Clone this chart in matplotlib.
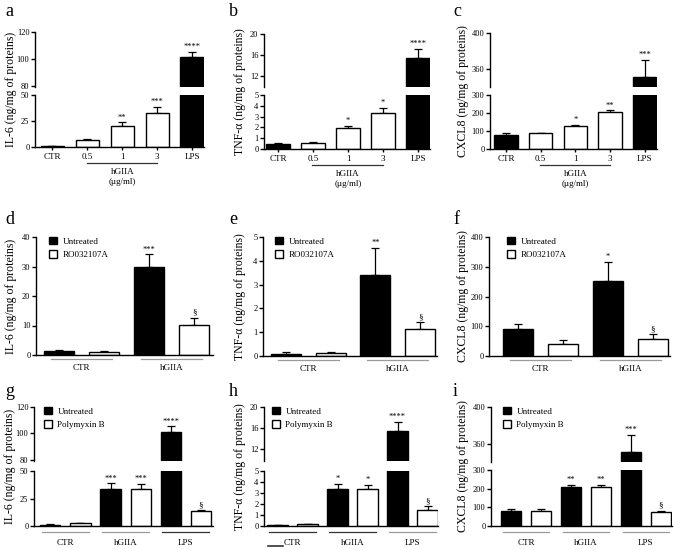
import numpy as np
import matplotlib
matplotlib.use('Agg')
import matplotlib.pyplot as plt
import matplotlib.transforms as mtrans
from matplotlib.patches import Patch

plt.rcParams['font.family'] = ['Liberation Serif', 'DejaVu Serif']

W, H = 675, 550

#--row 1: dose response to hGIIA
dose_labels = ['CTR', '0.5', '1', '3', 'LPS']
dose_fill = ['black', 'white', 'white', 'white', 'black']
il6_dose = [0.9, 6.7, 20.2, 32.4, 101.0]
il6_dose_err = [0.3, 1.2, 3.4, 6.2, 4.4]
il6_dose_sig = ['', '', '**', '***', '****']
tnf_dose = [0.45, 0.6, 1.9, 3.33, 15.4]
tnf_dose_err = [0.06, 0.06, 0.27, 0.5, 1.8]
tnf_dose_sig = ['', '', '*', '*', '****']
cxcl8_dose = [80, 87, 128, 208, 351]
cxcl8_dose_err = [8, 0, 6, 8, 19]
cxcl8_dose_sig = ['', '', '*', '**', '***']

#--row 2: RO032107A
ro_groups = ['CTR', 'hGIIA']
ro_series = ['Untreated', 'RO032107A']
il6_ro_untr = [1.5, 30.0]
il6_ro_untr_err = [0.2, 4.2]
il6_ro_inh = [1.1, 10.2]
il6_ro_inh_err = [0.1, 2.5]
tnf_ro_untr = [0.1, 3.4]
tnf_ro_untr_err = [0.05, 1.15]
tnf_ro_inh = [0.12, 1.13]
tnf_ro_inh_err = [0.05, 0.29]
cxcl8_ro_untr = [92, 252]
cxcl8_ro_untr_err = [16, 65]
cxcl8_ro_inh = [40, 57]
cxcl8_ro_inh_err = [15, 16]
il6_ro_sig = ['', '***', '', '§']
tnf_ro_sig = ['', '**', '', '§']
cxcl8_ro_sig = ['', '*', '', '§']

#--row 3: polymyxin B
pb_groups = ['CTR', 'hGIIA', 'LPS']
pb_series = ['Untreated', 'Polymyxin B']
il6_pb_untr = [1.2, 33.8, 101.0]
il6_pb_untr_err = [0.4, 4.9, 4.4]
il6_pb_inh = [2.6, 33.5, 13.7]
il6_pb_inh_err = [0.5, 4.9, 1.2]
tnf_pb_untr = [0.1, 3.36, 15.4]
tnf_pb_untr_err = [0.03, 0.49, 1.8]
tnf_pb_inh = [0.15, 3.36, 1.48]
tnf_pb_inh_err = [0.03, 0.4, 0.32]
cxcl8_pb_untr = [82, 210, 351]
cxcl8_pb_untr_err = [10, 10, 19]
cxcl8_pb_inh = [83, 207, 77]
cxcl8_pb_inh_err = [9, 13, 6]
il6_pb_sig = ['', '***', '****', '', '***', '§']
tnf_pb_sig = ['', '*', '****', '', '*', '§']
cxcl8_pb_sig = ['', '**', '***', '', '**', '§']

fig = plt.figure(figsize=(W / 100, H / 100), dpi=100)

def px_axes(l, t, r, b):
    return fig.add_axes([l / W, 1 - b / H, (r - l) / W, (b - t) / H])

def style(ax, xlim, ylim, yticks):
    ax.set_xlim(*xlim)
    ax.set_ylim(*ylim)
    ax.set_yticks(yticks)
    for s in ['top', 'right']:
        ax.spines[s].set_visible(False)
    for s in ['left', 'bottom']:
        ax.spines[s].set_linewidth(1.0)
    ax.tick_params(axis='y', length=3, width=1, pad=1, labelsize=6)
    ax.tick_params(axis='x', length=0, labelsize=6.5)
    ax.set_xticks([])

def panel(box, split, xlim, ylims, ytick_sets, xs, vals, errs, fills, sigs, width=0.67):
    l, t, r, b = box
    if split:
        axes = [px_axes(l, t, r, split[0]), px_axes(l, split[1], r, b)]
    else:
        axes = [px_axes(l, t, r, b)]
    for ax, yl, yt in zip(axes, ylims, ytick_sets):
        ax.bar(xs, vals, width, color=fills, edgecolor='black', linewidth=1.0, zorder=2)
        ax.errorbar(xs, vals, yerr=[np.zeros(len(errs)), errs], fmt='none', ecolor='black',
                    elinewidth=0.9, capsize=3.2, capthick=0.9, zorder=1)
        style(ax, xlim, yl, yt)
    if split:
        axes[0].spines['bottom'].set_visible(False)
    # significance marks
    for x, v, e, s in zip(xs, vals, errs, sigs):
        if not s:
            continue
        top = v + e
        ax = axes[0] if (split and top > ylims[1][1]) else axes[-1]
        ax.annotate(s, (x, top), xytext=(0, 0.5), textcoords='offset points',
                    ha='center', va='bottom', fontsize=6 if s != '§' else 6.5)
    return axes

def below(ax, px):
    return -px / (ax.get_position().height * H)

def underline(ax, x0, x1, px, color):
    tr = mtrans.blended_transform_factory(ax.transData, ax.transAxes)
    ax.plot([x0, x1], [below(ax, px)] * 2, color=color, lw=0.9, transform=tr, clip_on=False)

def label_below(ax, x, px, text, size=6.5):
    tr = mtrans.blended_transform_factory(ax.transData, ax.transAxes)
    ax.text(x, below(ax, px), text, transform=tr, ha='center', va='center', fontsize=size)

def ylabel(x, yc, text):
    fig.text(x / W, 1 - yc / H, text, rotation=90, ha='center', va='center', fontsize=8.5)

def letter(x, y, text):
    fig.text(x / W, 1 - y / H, text, ha='left', va='center', fontsize=13)

def legend(ax, names, anchor):
    handles = [Patch(facecolor='black', edgecolor='black', label=names[0]),
               Patch(facecolor='white', edgecolor='black', linewidth=1.0, label=names[1])]
    ax.legend(handles=handles, loc='upper left', bbox_to_anchor=anchor, frameon=False,
              fontsize=6.5, handlelength=0.9, handleheight=0.9, handletextpad=0.6,
              labelspacing=0.5, borderaxespad=0, borderpad=0)

#--row 1
xd = np.arange(len(dose_labels))
row1 = [
    ((35, 32, 204, 147), (87, 95), (-0.5, 4.34), [(79, 120), (0, 50)], [[80, 100, 120], [0, 25, 50]],
     il6_dose, il6_dose_err, il6_dose_sig, 'IL-6 (ng/mg of proteins)', 11, 'a', 5),
    ((264, 34, 430, 149), (87, 95), (-0.4, 4.34), [(9.8, 20), (0, 5)], [[12, 16, 20], [0, 1, 2, 3, 4, 5]],
     tnf_dose, tnf_dose_err, tnf_dose_sig, 'TNF-α (ng/mg of proteins)', 240, 'b', 229),
    ((490, 33, 657, 149), (87, 95), (-0.46, 4.35), [(340, 400), (0, 300)], [[360, 400], [0, 100, 200, 300]],
     cxcl8_dose, cxcl8_dose_err, cxcl8_dose_sig, 'CXCL8 (ng/mg of proteins)', 463, 'c', 453),
]
for box, split, xl, yls, yts, v, e, s, lab, lx, let, letx in row1:
    axes = panel(box, split, xl, yls, yts, xd, v, e, dose_fill, s)
    axb = axes[-1]
    axb.set_xticks(xd)
    axb.set_xticklabels(dose_labels)
    axb.tick_params(axis='x', length=2.5, width=1, pad=2, labelsize=6.5)
    underline(axb, 0.98, 3.0, 16, '#333333')
    label_below(axb, 2.0, 25, 'hGIIA')
    label_below(axb, 2.0, 35, '(µg/ml)')
    ylabel(lx, (box[1] + box[3]) / 2, lab)
    letter(letx, 12, let)

#--row 2
x_ro = np.array([0, 2, 1, 3])
fill_ro = ['black', 'black', 'white', 'white']
row2 = [
    ((36, 237, 213, 355), (-0.51, 3.42), (0, 40), [0, 10, 20, 30, 40],
     il6_ro_untr + il6_ro_inh, il6_ro_untr_err + il6_ro_inh_err, il6_ro_sig,
     'IL-6 (ng/mg of proteins)', 11, 'd', 5, (0.075, 1.0)),
    ((263, 237, 437, 356), (-0.52, 3.38), (0, 5), [0, 1, 2, 3, 4, 5],
     tnf_ro_untr + tnf_ro_inh, tnf_ro_untr_err + tnf_ro_inh_err, tnf_ro_sig,
     'TNF-α (ng/mg of proteins)', 240, 'e', 229, (0.07, 1.0)),
    ((489, 237, 670, 356), (-0.64, 3.38), (0, 400), [0, 100, 200, 300, 400],
     cxcl8_ro_untr + cxcl8_ro_inh, cxcl8_ro_untr_err + cxcl8_ro_inh_err, cxcl8_ro_sig,
     'CXCL8 (ng/mg of proteins)', 463, 'f', 453, (0.1, 1.0)),
]
for box, xl, yl, yt, v, e, s, lab, lx, let, letx, anc in row2:
    ax = panel(box, None, xl, [yl], [yt], x_ro, v, e, fill_ro, s)[0]
    for g, name in enumerate(ro_groups):
        underline(ax, 2 * g + 0.5 - 0.68, 2 * g + 0.5 + 0.68, 4, '#9a9a9a')
        label_below(ax, 2 * g + 0.5, 13, name)
    legend(ax, ro_series, anc)
    ylabel(lx, (box[1] + box[3]) / 2, lab)
    letter(letx, 219, let)

#--row 3
x_pb = np.array([0, 2, 4, 1, 3, 5])
fill_pb = ['black'] * 3 + ['white'] * 3
row3 = [
    ((34, 407, 213, 526), (461, 471), (-0.54, 5.4), [(79, 120), (0, 50)], [[80, 100, 120], [0, 25, 50]],
     il6_pb_untr + il6_pb_inh, il6_pb_untr_err + il6_pb_inh_err, il6_pb_sig,
     'IL-6 (ng/mg of proteins)', 10, 'g', 5, (0.055, 1.0), ['#9a9a9a', '#9a9a9a', '#333333']),
    ((264, 407, 438, 526), (461, 471), (-0.45, 5.35), [(9.8, 20), (0, 5)], [[12, 16, 20], [0, 1, 2, 3, 4, 5]],
     tnf_pb_untr + tnf_pb_inh, tnf_pb_untr_err + tnf_pb_inh_err, tnf_pb_sig,
     'TNF-α (ng/mg of proteins)', 240, 'h', 229, (0.045, 1.0), ['#333333', '#333333', '#9a9a9a']),
    ((491, 407, 672, 526), (462, 470), (-0.67, 5.37), [(340, 400), (0, 300)], [[360, 400], [0, 100, 200, 300]],
     cxcl8_pb_untr + cxcl8_pb_inh, cxcl8_pb_untr_err + cxcl8_pb_inh_err, cxcl8_pb_sig,
     'CXCL8 (ng/mg of proteins)', 463, 'i', 453, (0.065, 1.0), ['#9a9a9a'] * 3),
]
for box, split, xl, yls, yts, v, e, s, lab, lx, let, letx, anc, lcols in row3:
    axes = panel(box, split, xl, yls, yts, x_pb, v, e, fill_pb, s)
    axb = axes[-1]
    for g, name in enumerate(pb_groups):
        underline(axb, 2 * g + 0.5 - 0.78, 2 * g + 0.5 + 0.78, 6, lcols[g])
        label_below(axb, 2 * g + 0.5, 17, name)
    legend(axes[0], pb_series, anc)
    ylabel(lx, (box[1] + box[3]) / 2, lab)
    letter(letx, 392, let)

# stray dash next to CTR in panel h
fig.add_artist(plt.Line2D([268 / W, 283 / W], [1 - 546 / H] * 2, color='#333333', lw=1.2))

fig.savefig('out.png', dpi=100)
